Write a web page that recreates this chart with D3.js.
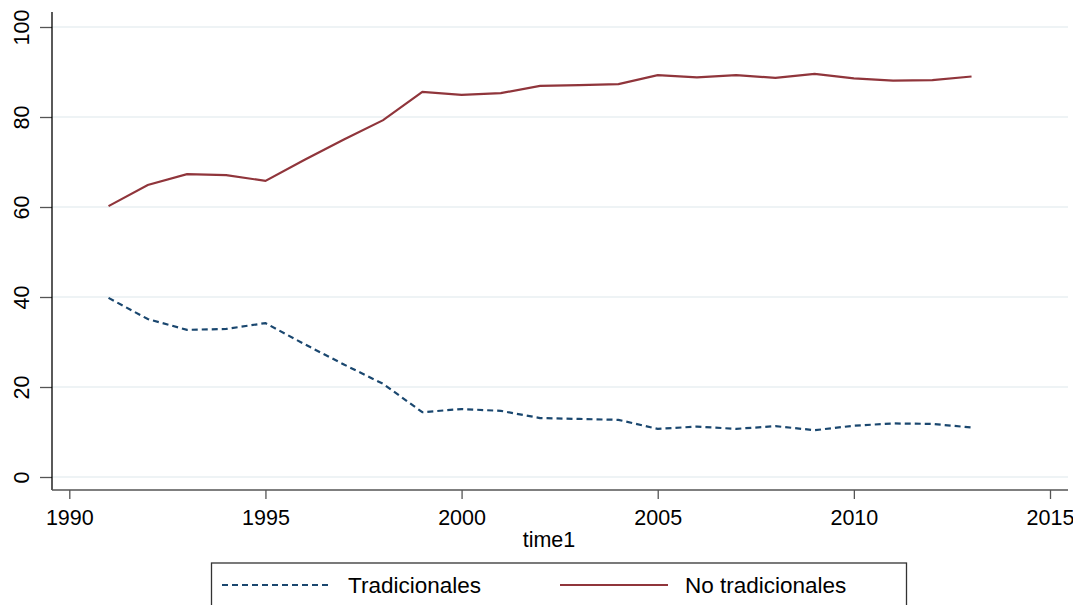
<!DOCTYPE html>
<html>
<head>
<meta charset="utf-8">
<script src="https://cdn.jsdelivr.net/npm/d3@7"></script>
<style>
  body { margin: 0; background: #fff; }
  text { font-family: "Liberation Sans", Arial, sans-serif; fill: #000; }
</style>
</head>
<body>
<div id="chart"></div>
<script>
// data
const years = [1991, 1992, 1993, 1994, 1995, 1996, 1997, 1998, 1999, 2000, 2001, 2002,
               2003, 2004, 2005, 2006, 2007, 2008, 2009, 2010, 2011, 2012, 2013];
const tradicionales = [39.8, 35.1, 32.7, 32.9, 34.2, 29.5, 25.0, 20.7, 14.4, 15.1, 14.7, 13.1,
                       12.9, 12.7, 10.7, 11.2, 10.7, 11.3, 10.4, 11.4, 11.9, 11.8, 11.0];
const noTradicionales = [60.2, 64.9, 67.3, 67.1, 65.8, 70.5, 75.0, 79.3, 85.6, 84.9, 85.3, 86.9,
                         87.1, 87.3, 89.3, 88.8, 89.3, 88.7, 89.6, 88.6, 88.1, 88.2, 89.0];
const xTicks = [1990, 1995, 2000, 2005, 2010, 2015];
const yTicks = [0, 20, 40, 60, 80, 100];
const seriesNames = ["Tradicionales", "No tradicionales"];

const W = 1073, H = 605;
const plot = {left: 52, right: 1068, top: 12, bottom: 490};
const fs = 21.5;      // tick labels / axis title
const fsLegend = 22.5;

const svg = d3.select("#chart").append("svg")
  .attr("width", W).attr("height", H);

const x = d3.scaleLinear().domain([1990, 2015]).range([69.3, 1050]);
const y = d3.scaleLinear().domain([0, 100]).range([477, 27]);

// gridlines
svg.append("g")
  .selectAll("line")
  .data(yTicks)
  .enter().append("line")
    .attr("x1", plot.left).attr("x2", plot.right)
    .attr("y1", d => y(d)).attr("y2", d => y(d))
    .attr("stroke", "#e8eff2").attr("stroke-width", 1.5);

// y axis
const yAxis = svg.append("g")
  .attr("transform", "translate(" + plot.left + ",0)")
  .call(d3.axisLeft(y).tickValues(yTicks).tickSize(12).tickSizeOuter(0));
yAxis.select(".domain").remove();
yAxis.append("line")
  .attr("x1", 0).attr("x2", 0).attr("y1", plot.top).attr("y2", plot.bottom)
  .attr("stroke", "#000").attr("stroke-width", 1.3);
yAxis.selectAll(".tick line").attr("stroke", "#555").attr("stroke-width", 1.3);
yAxis.selectAll(".tick text")
  .attr("font-size", fs)
  .attr("text-anchor", "middle")
  .attr("x", 0).attr("y", 0).attr("dy", "0.36em")
  .attr("transform", "translate(-31,0) rotate(-90)");

// x axis
const xAxis = svg.append("g")
  .attr("transform", "translate(0," + plot.bottom + ")")
  .call(d3.axisBottom(x).tickValues(xTicks).tickFormat(d3.format("d")).tickSize(9).tickSizeOuter(0).tickPadding(11));
xAxis.select(".domain").remove();
xAxis.append("line")
  .attr("x1", plot.left).attr("x2", plot.right).attr("y1", 0).attr("y2", 0)
  .attr("stroke", "#555").attr("stroke-width", 1.3);
xAxis.selectAll(".tick line").attr("stroke", "#555").attr("stroke-width", 1.3);
xAxis.selectAll(".tick text").attr("font-size", fs);

svg.append("text")
  .attr("x", (plot.left + plot.right) / 2 - 11).attr("y", 547)
  .attr("text-anchor", "middle")
  .attr("font-size", fs)
  .text("time1");

// lines
const line = d3.line()
  .x((d, i) => x(years[i]))
  .y(d => y(d));

svg.append("path")
  .datum(noTradicionales)
  .attr("d", line)
  .attr("fill", "none")
  .attr("stroke", "#90353b")
  .attr("stroke-width", 2.2);

svg.append("path")
  .datum(tradicionales)
  .attr("d", line)
  .attr("fill", "none")
  .attr("stroke", "#1a476f")
  .attr("stroke-width", 2.2)
  .attr("stroke-dasharray", "6,4");

// legend
const legend = svg.append("g");
legend.append("rect")
  .attr("x", 211.5).attr("y", 563).attr("width", 695).attr("height", 50)
  .attr("fill", "#fff").attr("stroke", "#333").attr("stroke-width", 1.3);

const items = [
  {name: seriesNames[0], color: "#1a476f", dash: "6,4", x1: 222, x2: 328, tx: 348},
  {name: seriesNames[1], color: "#90353b", dash: null, x1: 560, x2: 668, tx: 685}
];
items.forEach(it => {
  legend.append("line")
    .attr("x1", it.x1).attr("x2", it.x2).attr("y1", 585).attr("y2", 585)
    .attr("stroke", it.color).attr("stroke-width", 2.2)
    .attr("stroke-dasharray", it.dash);
  legend.append("text")
    .attr("x", it.tx).attr("y", 593)
    .attr("font-size", fsLegend)
    .text(it.name);
});
</script>
</body>
</html>
